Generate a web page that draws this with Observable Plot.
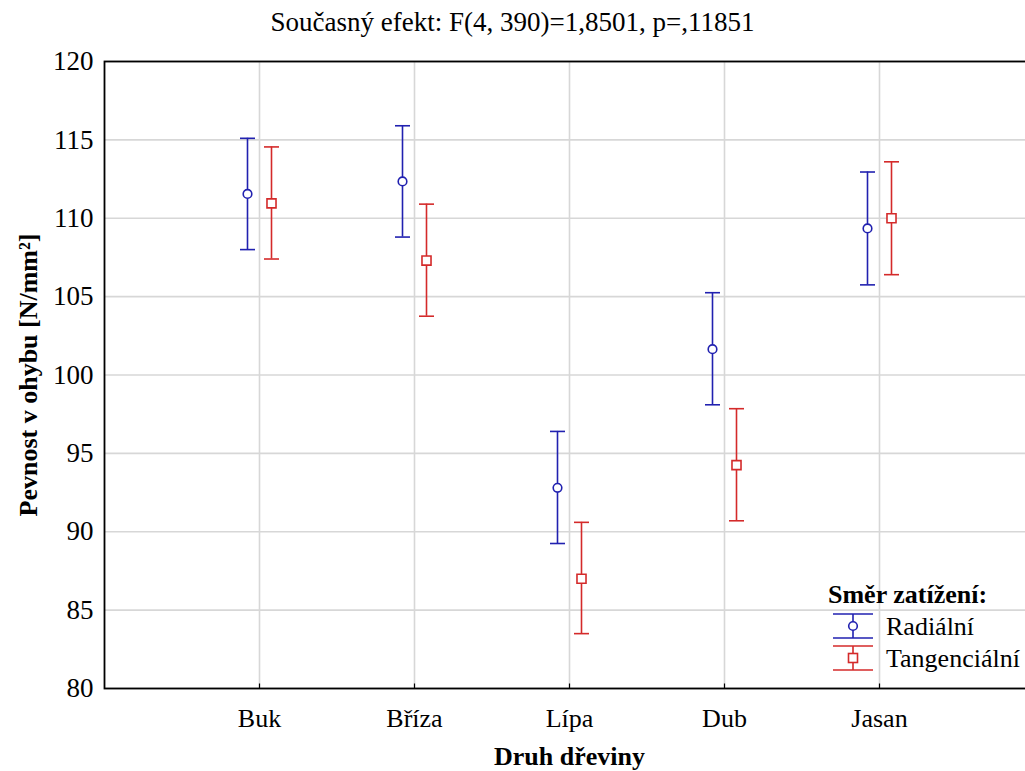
<!DOCTYPE html>
<html>
<head>
<meta charset="utf-8">
<script src="https://cdn.jsdelivr.net/npm/d3@7"></script>
<script src="https://cdn.jsdelivr.net/npm/@observablehq/plot@0.6"></script>
<style>
  html, body { margin: 0; padding: 0; background: #fff; }
  #wrap { position: relative; width: 1025px; height: 771px; overflow: hidden; font-family: "Liberation Serif", "Times New Roman", serif; color: #000; }
  #title { height: 45px; line-height: 45px; text-align: center; font-size: 27px; }
  #legend { position: absolute; left: 830px; top: 579px; font-size: 26px; }
  #legend .lt { font-weight: bold; line-height: 32px; margin-left: -2px; }
  #legend .row { display: flex; align-items: center; height: 32px; }
  #legend .row span { margin-left: 10px; }
  #chart svg text { font-family: "Liberation Serif", "Times New Roman", serif; font-variant: normal; }
</style>
</head>
<body>
<div id="wrap">
  <div id="title">Současný efekt: F(4, 390)=1,8501, p=,11851</div>
  <div id="chart"></div>
  <div id="legend"></div>
</div>
<script>
// ---- data ----
const categories = ["Buk", "Bříza", "Lípa", "Dub", "Jasan"];
const seriesNames = ["Radiální", "Tangenciální"];
const radMean = [111.55, 112.35, 92.8, 101.65, 109.35];
const radLow  = [108.0, 108.8, 89.25, 98.1, 105.75];
const radHigh = [115.1, 115.9, 96.4, 105.25, 112.95];
const tanMean = [110.95, 107.3, 87.0, 94.25, 110.0];
const tanLow  = [107.4, 103.75, 83.5, 90.7, 106.4];
const tanHigh = [114.55, 110.9, 90.6, 97.85, 113.6];
const yTicks = [80, 85, 90, 95, 100, 105, 110, 115, 120];
const xLabel = "Druh dřeviny";
const yLabel = "Pevnost v ohybu [N/mm²]";

const blue = "#2121b0", red = "#d42a2a";

const rad = categories.map((c, i) => ({cat: c, m: radMean[i], lo: radLow[i], hi: radHigh[i]}));
const tan = categories.map((c, i) => ({cat: c, m: tanMean[i], lo: tanLow[i], hi: tanHigh[i]}));

const cap = {draw(ctx) { ctx.moveTo(-7.5, 0); ctx.lineTo(7.5, 0); }};
const upTick = {draw(ctx) { ctx.moveTo(0, 0); ctx.lineTo(0, -5); }};

function series(data, color, dx, symbol, r) {
  return [
    Plot.ruleX(data, {x: "cat", y1: "lo", y2: "hi", dx, stroke: color, strokeWidth: 1.6}),
    Plot.dot(data, {x: "cat", y: "lo", dx, symbol: cap, fill: "none", stroke: color, strokeWidth: 1.6}),
    Plot.dot(data, {x: "cat", y: "hi", dx, symbol: cap, fill: "none", stroke: color, strokeWidth: 1.6}),
    Plot.dot(data, {x: "cat", y: "m", dx, symbol, r, fill: "white", stroke: color, strokeWidth: 1.6})
  ];
}

const chart = Plot.plot({
  width: 1025,
  height: 726,
  marginLeft: 104,
  marginRight: -9,
  marginTop: 16,
  marginBottom: 83,
  style: {fontFamily: "'Liberation Serif', 'Times New Roman', serif", fontSize: "26px", background: "white", color: "black", overflow: "hidden"},
  x: {type: "point", domain: categories, padding: 1},
  y: {domain: [80, 120]},
  marks: [
    Plot.gridY(yTicks, {stroke: "#d7d7d7", strokeOpacity: 1, strokeWidth: 1.6}),
    Plot.gridX(categories, {stroke: "#d7d7d7", strokeOpacity: 1, strokeWidth: 1.6}),
    Plot.axisY(yTicks, {tickSize: 0, tickPadding: 11, label: null, fontSize: 27}),
    Plot.axisX(categories, {tickSize: 0, tickPadding: 20, label: null, fontSize: 26}),
    Plot.dot(categories, {x: d => d, frameAnchor: "bottom", symbol: upTick, fill: "none", stroke: "black", strokeWidth: 1.2}),
    Plot.text([xLabel], {text: d => d, frameAnchor: "bottom", dy: 68, fontWeight: "bold", fontSize: 26, lineAnchor: "middle", textAnchor: "middle"}),
    Plot.text([yLabel], {text: d => d, frameAnchor: "left", dx: -76, rotate: -90, fontWeight: "bold", fontSize: 26, lineAnchor: "middle", textAnchor: "middle"}),
    ...series(rad, blue, -12, "circle", 4.3),
    ...series(tan, red, 12, "square", 5.1),
    Plot.frame({stroke: "black", strokeWidth: 1.8})
  ]
});
document.getElementById("chart").appendChild(chart);

// legend
const leg = document.getElementById("legend");
const lt = document.createElement("div");
lt.className = "lt";
lt.textContent = "Směr zatížení:";
leg.appendChild(lt);
const colors = [blue, red];
seriesNames.forEach((name, i) => {
  const row = document.createElement("div");
  row.className = "row";
  const c = colors[i];
  const marker = i === 0
    ? `<circle cx="23" cy="15" r="4.3" fill="white" stroke="${c}" stroke-width="1.6"/>`
    : `<rect x="18.5" y="10.5" width="9" height="9" fill="white" stroke="${c}" stroke-width="1.6"/>`;
  row.innerHTML = `<svg width="46" height="32" style="display:block">
      <line x1="3" x2="43" y1="3" y2="3" stroke="${c}" stroke-width="1.6"/>
      <line x1="3" x2="43" y1="27" y2="27" stroke="${c}" stroke-width="1.6"/>
      <line x1="23" x2="23" y1="3" y2="27" stroke="${c}" stroke-width="1.6"/>
      ${marker}
    </svg><span>${name}</span>`;
  leg.appendChild(row);
});
</script>
</body>
</html>
